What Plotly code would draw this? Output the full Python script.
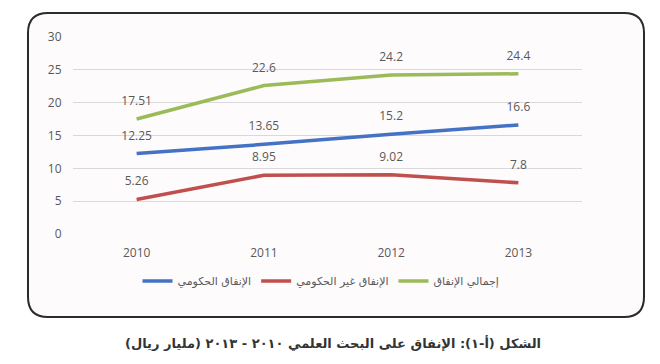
import plotly.graph_objects as go

years = ["2010", "2011", "2012", "2013"]
gov = [12.25, 13.65, 15.2, 16.6]
nongov = [5.26, 8.95, 9.02, 7.8]
total = [17.51, 22.6, 24.2, 24.4]
names = ["الإنفاق الحكومي", "الإنفاق غير الحكومي", "إجمالي الإنفاق"]
y_ticks = [0, 5, 10, 15, 20, 25, 30]
caption = "الشكل (أ-١): الإنفاق على البحث العلمي ٢٠١٠ - ٢٠١٣ (مليار ريال)"

W, H = 660, 364
OFF = 8  # page body margin in the browser
L, R, T, B = 73 - OFF, 582 - OFF, 37 - OFF, 234 - OFF

def px(x):
    return (x - OFF - L) / (R - L)

def py(y):
    return (B - (y - OFF)) / (B - T)

fig = go.Figure()
series = [(gov, "#4472C4"), (nongov, "#C0504D"), (total, "#9BBB59")]
for (vals, col), nm in zip(series, names):
    fig.add_trace(go.Scatter(
        x=years, y=vals, name=nm, mode="lines+markers+text",
        line=dict(color=col, width=3.5),
        marker=dict(size=16, color="rgba(0,0,0,0)"),
        text=[str(v) for v in vals], textposition="top center",
        textfont=dict(color="#595959", size=12, family="Open Sans, DejaVu Sans"),
        cliponaxis=False,
    ))

# rounded border
x0, x1, y0, y1, r = 28, 644, 13, 317, 20
pts = (
    f"M {px(x0+r)},{py(y0)} L {px(x1-r)},{py(y0)} "
    f"Q {px(x1)},{py(y0)} {px(x1)},{py(y0+r)} "
    f"L {px(x1)},{py(y1-r)} Q {px(x1)},{py(y1)} {px(x1-r)},{py(y1)} "
    f"L {px(x0+r)},{py(y1)} Q {px(x0)},{py(y1)} {px(x0)},{py(y1-r)} "
    f"L {px(x0)},{py(y0+r)} Q {px(x0)},{py(y0)} {px(x0+r)},{py(y0)} Z"
)
fig.add_shape(type="path", path=pts, xref="paper", yref="paper",
              line=dict(color="#2b2b2b", width=2), fillcolor="#fefbfc", layer="below")

fig.add_annotation(text="<b>" + caption + "</b>", xref="paper", yref="paper",
                   x=px(333), y=py(343), xanchor="center", yanchor="middle",
                   showarrow=False,
                   font=dict(size=13, color="#333333", family="DejaVu Sans, Noto Sans"))

fig.update_layout(
    width=W, height=H,
    margin=dict(l=L, r=W - R, t=T, b=H - B),
    paper_bgcolor="white", plot_bgcolor="rgba(0,0,0,0)",
    showlegend=True,
    legend=dict(orientation="h", x=px(321), xanchor="center", y=py(281), yanchor="middle",
                font=dict(size=11, color="#595959", family="DejaVu Sans, Open Sans"),
                bgcolor="rgba(0,0,0,0)", itemwidth=30, tracegroupgap=0),
    font=dict(family="Open Sans, DejaVu Sans", color="#595959", size=12),
)
fig.update_xaxes(type="category", range=[-0.5, 3.5], showgrid=False, zeroline=False,
                 showline=False, ticks="outside", ticklen=8, tickcolor="rgba(0,0,0,0)",
                 tickfont=dict(size=12, color="#595959"))
fig.update_yaxes(range=[0, 30], tickvals=y_ticks, showgrid=True, gridcolor="#d9d9d9",
                 gridwidth=1, zeroline=False, showline=False,
                 ticks="outside", ticklen=8, tickcolor="rgba(0,0,0,0)",
                 tickfont=dict(size=12, color="#595959"))

fig.write_html("out.html")
